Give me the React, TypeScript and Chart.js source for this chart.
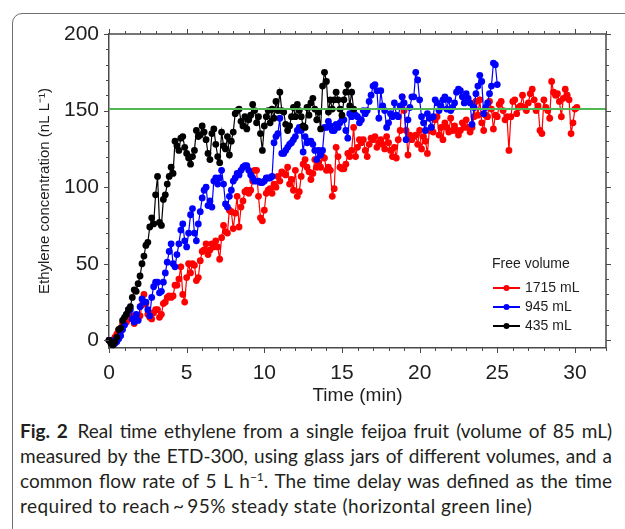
import React, { useEffect, useRef } from 'react';
import { Chart, registerables } from 'chart.js';

Chart.register(...registerables);

// Sampling step of the ETD-300 trace (minutes)
const SAMPLE_STEP_MIN = 0.125;

const X_TICKS = [0, 5, 10, 15, 20, 25, 30];
const Y_TICKS = [0, 50, 100, 150, 200];
const X_MIN = 0;
const X_MAX = 32;
const Y_MIN = -5;
const Y_MAX = 200;

const SERIES_LABELS = ['1715 mL', '945 mL', '435 mL'];
const SERIES_COLORS = ['#ff0000', '#0000ff', '#000000'];
const LEGEND_TITLE = 'Free volume';
const STEADY_STATE = 151;

const X_TITLE = 'Time (min)';
const Y_TITLE = 'Ethylene concentration (nL L\u207B\u00B9)';

// 1715 mL free volume (red)
const red1715 = [
  0, 0, -1, 2, 4, 7, 6, 11,
  13, 12, 14, 16, 16, 11, 14, 14,
  16, 23, 30, 24, 17, 15, 14, 18,
  20, 20, 15, 17, 24, 25, 28, 29,
  28, 29, 36, 36, 40, 48, 30, 25,
  41, 50, 44, 50, 49, 39, 41, 52,
  58, 59, 63, 56, 59, 63, 61, 65,
  61, 53, 67, 75, 71, 70, 85, 84,
  73, 83, 94, 74, 87, 91, 97, 98,
  96, 98, 104, 111, 111, 94, 80, 78,
  85, 96, 98, 99, 96, 102, 100, 107,
  104, 110, 109, 108, 113, 102, 105, 98,
  111, 94, 97, 107, 115, 118, 113, 110,
  105, 109, 118, 113, 116, 113, 120, 119,
  111, 113, 111, 94, 99, 126, 120, 113,
  112, 112, 115, 122, 120, 124, 139, 120,
  126, 131, 129, 131, 124, 120, 128, 132,
  131, 133, 126, 129, 131, 128, 125, 133,
  129, 124, 120, 126, 119, 131, 137, 159,
  150, 137, 121, 134, 131, 133, 134, 128,
  137, 125, 133, 130, 122, 137, 139, 136,
  144, 146, 134, 139, 131, 142, 139, 136,
  145, 137, 140, 137, 134, 137, 142, 139,
  144, 139, 136, 139, 146, 156, 147, 157,
  142, 137, 147, 146, 156, 151, 138, 147,
  146, 154, 156, 150, 144, 146, 124, 146,
  156, 157, 148, 152, 153, 160, 152, 150,
  155, 161, 164, 157, 150, 153, 137, 135,
  157, 152, 150, 145, 169, 162, 160, 161,
  156, 146, 158, 164, 160, 157, 135, 142,
  151, 152,
];

// 945 mL free volume (blue)
const blue945 = [
  0, 0, -1, -2, -1, 1, 3, 7,
  10, 17, 20, 20, 14, 12, 17, 13,
  22, 27, 25, 25, 20, 16, 28, 35,
  38, 38, 31, 32, 38, 44, 51, 58,
  63, 50, 48, 56, 63, 72, 76, 65,
  61, 70, 82, 86, 70, 65, 76, 84,
  93, 98, 100, 88, 91, 87, 104, 106,
  102, 106, 111, 102, 89, 87, 94, 98,
  104, 106, 109, 108, 111, 113, 114, 114,
  111, 108, 106, 104, 104, 104, 103, 103,
  104, 106, 106, 106, 107, 129, 133, 135,
  145, 122, 122, 124, 126, 128, 129, 131,
  133, 137, 139, 137, 123, 133, 129, 130,
  130, 128, 124, 118, 124, 121, 124, 139,
  139, 143, 140, 137, 137, 141, 139, 142,
  144, 144, 137, 132, 148, 146, 150, 147,
  146, 142, 144, 150, 148, 150, 156, 160,
  166, 167, 163, 145, 163, 153, 150, 139,
  142, 148, 146, 155, 147, 146, 153, 159,
  155, 131, 144, 152, 159, 159, 175, 170,
  157, 146, 142, 137, 148, 145, 139, 146,
  157, 155, 150, 153, 157, 159, 151, 157,
  150, 152, 155, 162, 164, 163, 159, 155,
  161, 158, 155, 141, 152, 161, 166, 173,
  169, 148, 152, 155, 161, 166, 181, 180,
  167,
];

// 435 mL free volume (black)
const black435 = [
  0, -2, -3, -1, 2, 7, 8, 13,
  15, 17, 20, 22, 28, 33, 32, 37,
  42, 50, 55, 62, 64, 74, 80, 76,
  95, 107, 77, 75, 92, 95, 102, 107,
  113, 109, 130, 127, 124, 132, 133, 126,
  122, 119, 115, 120, 124, 137, 133, 134,
  140, 136, 131, 122, 118, 135, 138, 128,
  120, 116, 136, 127, 125, 133, 121, 130,
  136, 148, 150, 151, 143, 140, 146, 138,
  144, 147, 154, 150, 142, 146, 135, 124,
  140, 146, 150, 142, 151, 145, 156, 150,
  162, 150, 149, 141, 137, 140, 146, 152,
  146, 154, 150, 146, 140, 139, 152, 147,
  155, 158, 151, 144, 149, 138, 166, 175,
  169, 149, 157, 151, 157, 162, 157, 151,
  147, 157, 162, 167, 153, 162, 151,
];

const SERIES_VALUES = [red1715, blue945, black435];

const AXIS_COLOR = '#4a4a4a';
const TEXT_COLOR = '#1e1e1e';
const GREEN = '#52b652';
const ARIAL = '"Liberation Sans", Arial, Helvetica, sans-serif';

function toPoints(values: number[]) {
  return values.map((v, i) => ({ x: i * SAMPLE_STEP_MIN, y: v }));
}

const framePlugin = {
  id: 'frameAndLegend',
  afterDraw(chart: any) {
    const { ctx, chartArea: a, scales } = chart;
    const xs = scales.x;
    const ys = scales.y;
    ctx.save();
    ctx.strokeStyle = AXIS_COLOR;
    ctx.lineWidth = 1.5;
    ctx.beginPath();
    ctx.moveTo(a.left, a.top);
    ctx.lineTo(a.right, a.top);
    ctx.lineTo(a.right, a.bottom);
    ctx.stroke();

    ctx.lineWidth = 1;
    ctx.beginPath();
    for (let v = X_MIN; v <= X_MAX; v += 1) {
      const px = Math.round(xs.getPixelForValue(v)) + 0.5;
      const len = v % 5 === 0 ? 5 : 3;
      ctx.moveTo(px, a.bottom);
      ctx.lineTo(px, a.bottom + len);
      ctx.moveTo(px, a.top);
      ctx.lineTo(px, a.top - len);
    }
    for (let v = 0; v <= Y_MAX; v += 10) {
      const py = Math.round(ys.getPixelForValue(v)) + 0.5;
      const len = v % 50 === 0 ? 5 : 3;
      ctx.moveTo(a.left, py);
      ctx.lineTo(a.left - len, py);
      ctx.moveTo(a.right, py);
      ctx.lineTo(a.right + len, py);
    }
    ctx.stroke();

    // legend
    const lx = a.right - 114;
    const ly = a.top + 230;
    ctx.font = '14px ' + ARIAL;
    ctx.fillStyle = TEXT_COLOR;
    ctx.textBaseline = 'middle';
    ctx.textAlign = 'left';
    ctx.fillText(LEGEND_TITLE, lx, ly);
    SERIES_LABELS.forEach((label, i) => {
      const yy = ly + 24 + i * 19;
      ctx.strokeStyle = SERIES_COLORS[i];
      ctx.lineWidth = 2;
      ctx.beginPath();
      ctx.moveTo(lx + 1, yy);
      ctx.lineTo(lx + 28, yy);
      ctx.stroke();
      ctx.fillStyle = SERIES_COLORS[i];
      ctx.beginPath();
      ctx.arc(lx + 14.5, yy, 3, 0, Math.PI * 2);
      ctx.fill();
      ctx.fillStyle = TEXT_COLOR;
      ctx.fillText(label, lx + 33, yy + 0.5);
    });
    ctx.restore();
  },
};

function ChartView() {
  const ref = useRef<HTMLCanvasElement | null>(null);
  useEffect(() => {
    if (!ref.current) return;
    const datasets: any[] = SERIES_VALUES.map((vals, i) => ({
      label: SERIES_LABELS[i],
      data: toPoints(vals),
      borderColor: SERIES_COLORS[i],
      backgroundColor: SERIES_COLORS[i],
      borderWidth: 1.2,
      pointRadius: 3.4,
      pointBorderWidth: 0,
      pointBackgroundColor: SERIES_COLORS[i],
      tension: 0,
      clip: false,
      order: 2 - i,
    }));
    datasets.push({
      label: 'steady state',
      data: [
        { x: X_MIN, y: STEADY_STATE },
        { x: X_MAX, y: STEADY_STATE },
      ],
      borderColor: GREEN,
      borderWidth: 2,
      pointRadius: 0,
      order: -1,
    });
    const chart = new Chart(ref.current, {
      type: 'line',
      data: { datasets },
      plugins: [framePlugin],
      options: {
        animation: false,
        responsive: false,
        devicePixelRatio: 1,
        layout: { padding: { top: 34, right: 19, left: 0, bottom: 0 } },
        plugins: { legend: { display: false }, tooltip: { enabled: false } },
        scales: {
          x: {
            type: 'linear',
            min: X_MIN,
            max: X_MAX,
            afterBuildTicks: (s: any) => {
              s.ticks = X_TICKS.map((v) => ({ value: v }));
            },
            afterFit: (s: any) => {
              s.height = 67;
            },
            grid: { display: true, drawOnChartArea: false, drawTicks: false },
            border: { display: true, color: AXIS_COLOR, width: 1.5 },
            ticks: {
              font: { family: ARIAL, size: 21 },
              color: TEXT_COLOR,
              padding: 13,
              maxRotation: 0,
            },
            title: {
              display: true,
              text: X_TITLE,
              font: { family: ARIAL, size: 19 },
              color: TEXT_COLOR,
              padding: { top: 0, bottom: 8 },
            },
          },
          y: {
            type: 'linear',
            min: Y_MIN,
            max: Y_MAX,
            afterBuildTicks: (s: any) => {
              s.ticks = Y_TICKS.map((v) => ({ value: v }));
            },
            afterFit: (s: any) => {
              s.width = 109;
            },
            grid: { display: true, drawOnChartArea: false, drawTicks: false },
            border: { display: true, color: AXIS_COLOR, width: 1.5 },
            ticks: {
              font: { family: ARIAL, size: 21 },
              color: TEXT_COLOR,
              padding: 10,
            },
            title: {
              display: true,
              text: Y_TITLE,
              font: { family: ARIAL, size: 15 },
              color: TEXT_COLOR,
              padding: { top: 36, bottom: 0 },
            },
          },
        },
      },
    } as any);
    return () => chart.destroy();
  }, []);
  return (
    <canvas
      ref={ref}
      width={625}
      height={415}
      style={{ position: 'absolute', left: 0, top: 0 }}
    />
  );
}

const lineJustify: React.CSSProperties = {
  textAlign: 'justify',
  textAlignLast: 'justify' as any,
  whiteSpace: 'nowrap',
};

export default function App() {
  return (
    <div
      style={{
        position: 'absolute',
        left: 0,
        top: 0,
        width: 625,
        height: 529,
        overflow: 'hidden',
        background: '#fff',
      }}
    >
      <div
        style={{
          position: 'absolute',
          left: 12,
          top: 13,
          width: 640,
          height: 530,
          border: '1.5px solid #707070',
          borderRadius: 10,
          boxSizing: 'border-box',
        }}
      />
      <ChartView />
      <div
        style={{
          position: 'absolute',
          left: 20,
          top: 418,
          width: 592,
          fontFamily: 'Lato, "Open Sans", sans-serif',
          fontSize: 19,
          lineHeight: '25px',
          color: '#231f20',
        }}
      >
        <div style={lineJustify}>
          <b>Fig. 2</b>{'\u2002'}Real time ethylene from a single feijoa fruit (volume of 85 mL)
        </div>
        <div style={lineJustify}>
          measured by the ETD-300, using glass jars of different volumes, and a
        </div>
        <div style={lineJustify}>
          common flow rate of 5 L h<sup style={{ fontSize: 12, lineHeight: 0 }}>{'\u2212'}1</sup>. The time delay was defined as the time
        </div>
        <div style={{ letterSpacing: '0.45px' }}>
          required to reach{'\u2009'}~{'\u2009'}95% steady state (horizontal green line)
        </div>
      </div>
    </div>
  );
}
